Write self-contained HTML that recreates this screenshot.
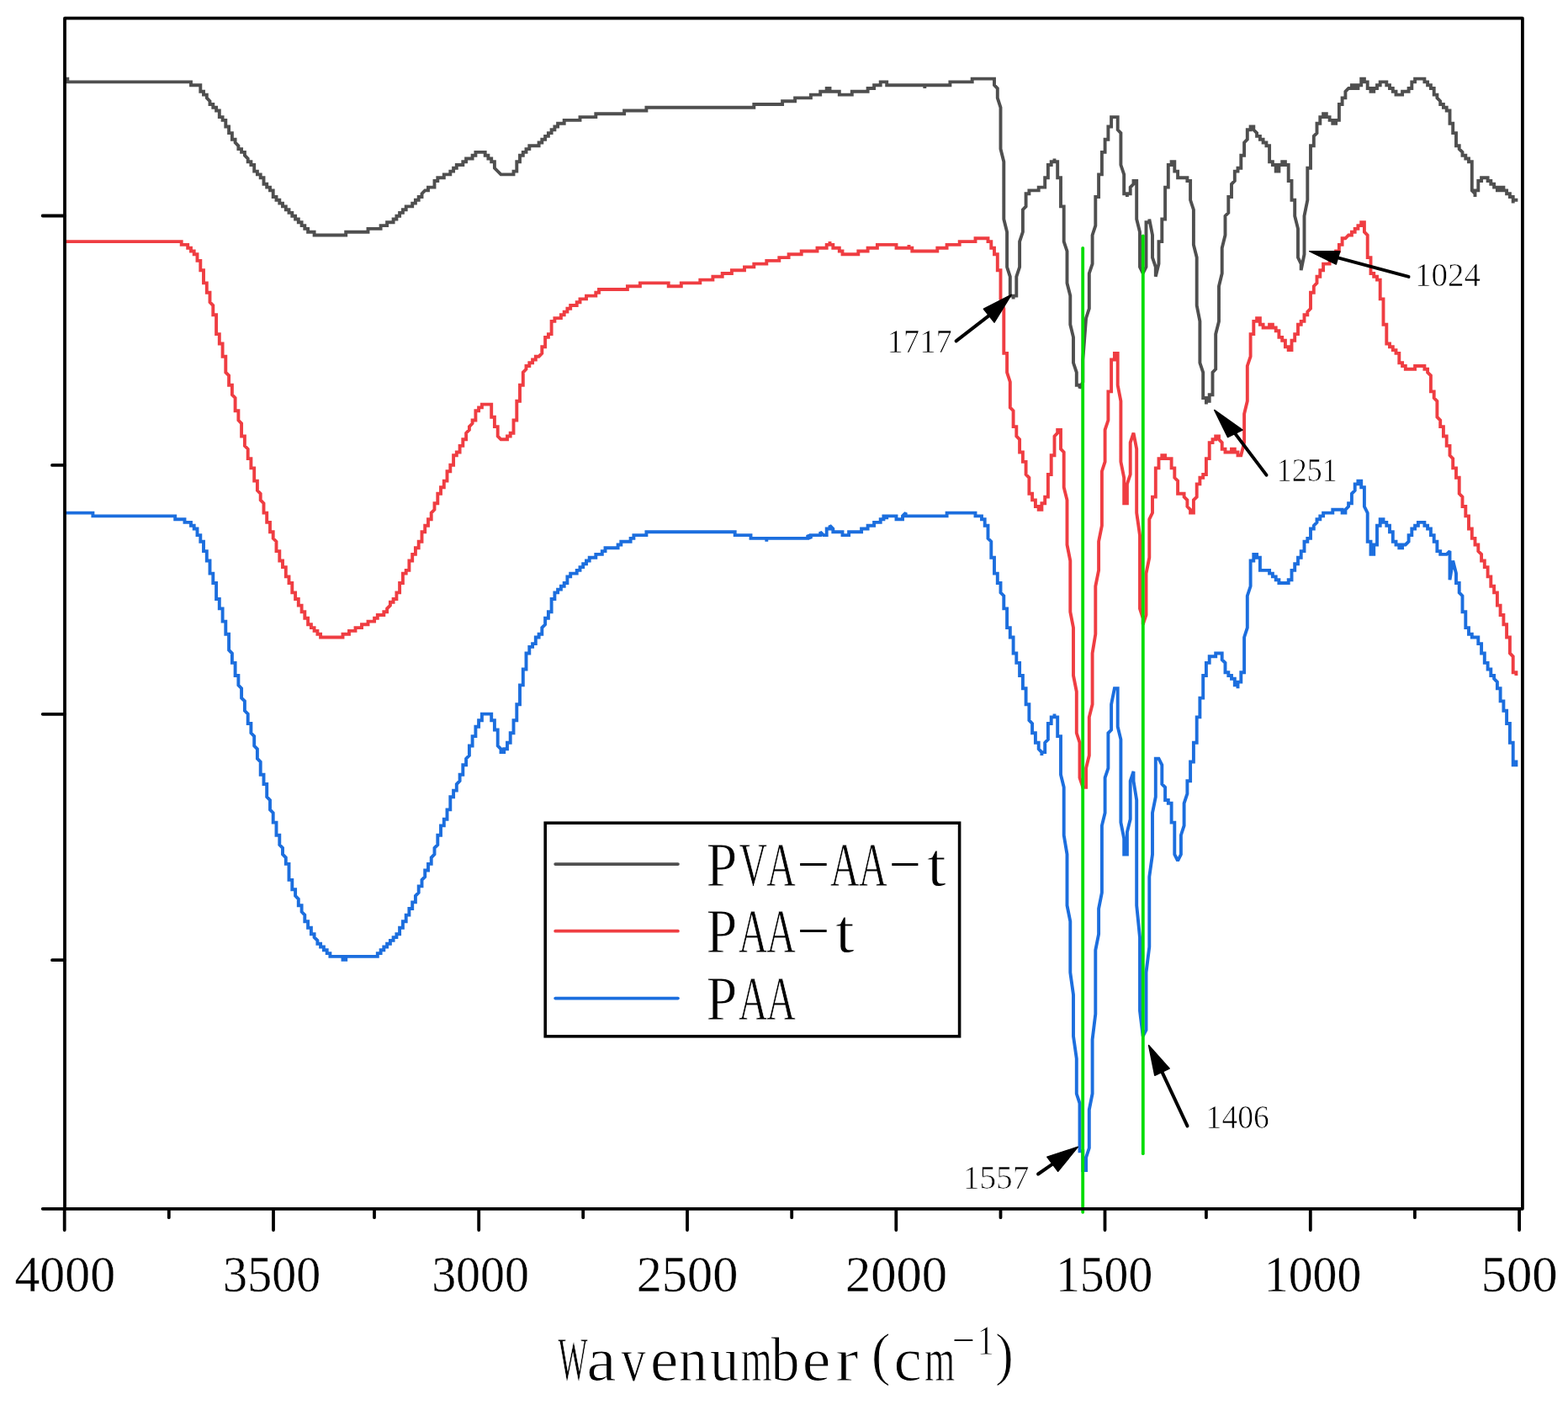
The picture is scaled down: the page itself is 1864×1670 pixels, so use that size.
<!DOCTYPE html>
<html><head><meta charset="utf-8"><title>FTIR spectra</title>
<style>html,body{margin:0;padding:0;background:#fff;}svg{display:block;}</style>
</head><body>
<svg width="1864" height="1670" viewBox="0 0 1864 1670">
<rect width="1864" height="1670" fill="#fff"/>
<defs><filter id="soft" x="-1%" y="-1%" width="102%" height="102%"><feGaussianBlur stdDeviation="0.45"/></filter></defs>
<g filter="url(#soft)">
<polyline points="80.3,93.6 80.3,97.4 227.0,97.4 227.0,101.2 238.3,101.2 238.3,108.8 242.0,108.8 242.0,112.6 245.8,112.6 245.8,116.4 249.5,120.2 249.5,124.0 253.3,124.0 253.3,127.8 257.1,127.8 257.1,131.5 260.8,131.5 260.8,139.1 264.6,139.1 264.6,142.9 268.3,142.9 268.3,150.5 272.1,150.5 272.1,158.1 275.9,158.1 275.9,165.7 279.6,165.7 279.6,169.5 283.4,173.3 283.4,177.1 287.1,177.1 287.1,180.9 290.9,180.9 290.9,184.7 294.7,188.5 294.7,192.2 298.4,192.2 298.4,196.0 302.2,196.0 302.2,203.6 305.9,203.6 305.9,207.4 309.7,207.4 309.7,211.2 313.5,211.2 313.5,218.8 317.2,218.8 317.2,222.6 321.0,222.6 321.0,226.4 324.7,226.4 324.7,234.0 328.5,234.0 328.5,237.8 332.3,237.8 332.3,241.6 336.0,241.6 336.0,245.4 339.8,245.4 339.8,249.2 343.5,249.2 343.5,252.9 347.3,252.9 347.3,256.7 351.1,256.7 351.1,260.5 354.8,260.5 354.8,264.3 358.6,264.3 358.6,268.1 362.3,268.1 362.3,271.9 366.1,271.9 366.1,275.7 373.6,275.7 373.6,279.5 411.2,279.5 411.2,275.7 437.5,275.7 437.5,271.9 452.6,271.9 452.6,268.1 460.1,268.1 460.1,264.3 467.6,264.3 467.6,260.5 471.4,260.5 471.4,256.7 475.1,256.7 475.1,252.9 478.9,252.9 478.9,249.2 482.7,249.2 482.7,245.4 490.2,245.4 490.2,241.6 493.9,241.6 493.9,237.8 497.7,237.8 497.7,234.0 501.5,234.0 501.5,230.2 505.2,226.4 509.0,226.4 509.0,222.6 516.5,222.6 516.5,215.0 520.3,215.0 520.3,211.2 527.8,211.2 527.8,207.4 535.3,207.4 535.3,203.6 539.1,203.6 539.1,199.8 542.8,199.8 542.8,196.0 550.3,196.0 550.3,192.2 554.1,192.2 554.1,188.5 561.6,188.5 561.6,184.7 565.4,184.7 565.4,180.9 576.7,180.9 576.7,184.7 580.4,184.7 580.4,188.5 584.2,188.5 584.2,192.2 587.9,192.2 587.9,199.8 595.5,207.4 610.5,207.4 610.5,203.6 614.3,203.6 614.3,192.2 618.0,192.2 618.0,184.7 621.8,184.7 621.8,180.9 625.5,180.9 625.5,177.1 629.3,177.1 629.3,173.3 640.6,173.3 640.6,169.5 644.3,169.5 644.3,165.7 648.1,165.7 648.1,161.9 651.9,161.9 651.9,158.1 655.6,158.1 655.6,154.3 659.4,154.3 659.4,150.5 663.1,150.5 663.1,146.7 670.7,146.7 670.7,142.9 689.5,142.9 689.5,139.1 708.3,139.1 708.3,135.3 742.1,135.3 742.1,131.5 768.4,131.5 768.4,127.8 896.3,127.8 896.3,124.0 930.1,124.0 930.1,120.2 945.1,120.2 945.1,116.4 963.9,116.4 963.9,112.6 975.2,112.6 975.2,108.8 982.7,108.8 982.7,105.0 986.5,105.0 986.5,108.8 997.8,108.8 997.8,112.6 1012.8,112.6 1012.8,108.8 1031.6,108.8 1031.6,105.0 1039.1,105.0 1039.1,101.2 1046.7,101.2 1046.7,97.4 1054.2,97.4 1054.2,101.2 1099.3,101.2 1099.3,105.0 1099.3,101.2 1129.4,101.2 1129.4,97.4 1155.7,97.4 1155.7,93.6 1182.0,93.6 1182.0,101.2 1185.8,105.0 1185.8,116.4 1189.5,127.8 1189.5,177.1 1193.3,192.2 1193.3,260.5 1197.1,275.7 1197.1,317.4 1200.8,328.8 1200.8,351.6 1204.6,351.6 1204.6,355.4 1204.6,351.6 1208.3,351.6 1208.3,328.8 1212.1,317.4 1212.1,287.1 1215.9,275.7 1215.9,249.2 1219.6,245.4 1219.6,230.2 1223.4,230.2 1223.4,226.4 1234.7,226.4 1234.7,222.6 1242.2,222.6 1242.2,211.2 1245.9,211.2 1245.9,196.0 1249.7,196.0 1249.7,192.2 1253.5,192.2 1253.5,188.5 1253.5,192.2 1257.2,192.2 1257.2,211.2 1261.0,211.2 1261.0,245.4 1264.7,245.4 1264.7,287.1 1268.5,298.5 1268.5,336.4 1272.3,351.6 1272.3,385.7 1276.0,400.9 1276.0,431.3 1279.8,442.6 1279.8,457.8 1283.5,457.8 1283.5,461.6 1287.3,454.0 1287.3,427.5 1291.1,378.1 1294.8,366.8 1294.8,325.0 1298.6,313.6 1298.6,279.5 1302.3,268.1 1302.3,234.0 1306.1,234.0 1306.1,207.4 1309.9,207.4 1309.9,180.9 1313.6,180.9 1313.6,165.7 1317.4,165.7 1317.4,150.5 1321.1,150.5 1321.1,139.1 1328.7,139.1 1328.7,154.3 1332.4,158.1 1332.4,196.0 1336.2,207.4 1336.2,230.2 1339.9,230.2 1339.9,234.0 1339.9,230.2 1343.7,230.2 1343.7,222.6 1347.5,218.8 1347.5,215.0 1351.2,215.0 1351.2,260.5 1355.0,275.7 1355.0,317.4 1358.7,325.0 1362.5,317.4 1362.5,264.3 1366.3,264.3 1366.3,260.5 1370.0,279.5 1370.0,306.1 1373.8,317.4 1373.8,328.8 1377.5,313.6 1377.5,287.1 1381.3,287.1 1381.3,260.5 1385.1,260.5 1385.1,222.6 1388.8,222.6 1388.8,196.0 1392.6,196.0 1392.6,192.2 1396.3,192.2 1396.3,203.6 1400.1,203.6 1400.1,211.2 1411.4,211.2 1411.4,215.0 1415.1,215.0 1415.1,237.8 1418.9,249.2 1418.9,290.9 1422.7,306.1 1422.7,363.0 1426.4,381.9 1426.4,431.3 1430.2,442.6 1430.2,473.0 1433.9,473.0 1433.9,480.6 1433.9,476.8 1437.7,476.8 1437.7,469.2 1441.5,469.2 1441.5,442.6 1445.2,438.8 1445.2,397.1 1449.0,381.9 1449.0,340.2 1452.7,325.0 1452.7,294.7 1456.5,279.5 1456.5,256.7 1460.3,252.9 1460.3,234.0 1464.0,234.0 1464.0,218.8 1467.8,215.0 1467.8,203.6 1471.5,203.6 1471.5,199.8 1475.3,199.8 1475.3,184.7 1479.1,184.7 1479.1,169.5 1482.8,165.7 1482.8,154.3 1486.6,154.3 1486.6,150.5 1490.3,150.5 1490.3,154.3 1494.1,158.1 1494.1,161.9 1497.9,161.9 1497.9,165.7 1501.6,165.7 1501.6,169.5 1505.4,169.5 1505.4,173.3 1509.1,173.3 1509.1,192.2 1512.9,192.2 1512.9,196.0 1516.7,196.0 1516.7,203.6 1520.4,203.6 1520.4,196.0 1524.2,196.0 1524.2,192.2 1527.9,192.2 1527.9,196.0 1531.7,196.0 1531.7,215.0 1535.5,215.0 1535.5,237.8 1539.2,237.8 1539.2,256.7 1543.0,271.9 1543.0,306.1 1546.7,313.6 1546.7,321.2 1550.5,302.3 1550.5,256.7 1554.3,237.8 1554.3,199.8 1558.0,199.8 1558.0,173.3 1561.8,173.3 1561.8,161.9 1565.5,158.1 1565.5,146.7 1569.3,146.7 1569.3,139.1 1573.1,139.1 1573.1,135.3 1576.8,135.3 1576.8,139.1 1580.6,139.1 1580.6,142.9 1584.3,142.9 1584.3,146.7 1588.1,146.7 1588.1,142.9 1591.9,142.9 1591.9,124.0 1595.6,124.0 1595.6,116.4 1599.4,116.4 1599.4,108.8 1603.1,105.0 1606.9,105.0 1606.9,101.2 1610.7,101.2 1610.7,105.0 1614.4,105.0 1614.4,101.2 1618.2,101.2 1618.2,93.6 1621.9,93.6 1621.9,97.4 1625.7,97.4 1625.7,105.0 1629.5,105.0 1629.5,108.8 1633.2,108.8 1633.2,105.0 1637.0,105.0 1637.0,101.2 1640.7,101.2 1640.7,97.4 1648.3,97.4 1648.3,101.2 1652.0,101.2 1652.0,105.0 1655.8,105.0 1655.8,108.8 1659.5,108.8 1659.5,112.6 1667.1,112.6 1667.1,108.8 1674.6,108.8 1674.6,105.0 1678.3,105.0 1678.3,97.4 1682.1,97.4 1682.1,93.6 1693.4,93.6 1693.4,97.4 1697.1,97.4 1697.1,101.2 1700.9,101.2 1700.9,105.0 1704.7,105.0 1704.7,112.6 1708.4,112.6 1708.4,116.4 1712.2,120.2 1712.2,124.0 1715.9,124.0 1715.9,127.8 1719.7,127.8 1719.7,131.5 1723.5,131.5 1723.5,146.7 1727.2,146.7 1727.2,158.1 1731.0,158.1 1731.0,173.3 1734.7,173.3 1734.7,177.1 1738.5,180.9 1738.5,184.7 1742.3,184.7 1742.3,188.5 1746.0,188.5 1746.0,192.2 1749.8,192.2 1749.8,226.4 1753.5,230.2 1753.5,234.0 1753.5,226.4 1757.3,226.4 1757.3,215.0 1761.1,215.0 1761.1,211.2 1768.6,211.2 1768.6,215.0 1772.3,215.0 1772.3,218.8 1776.1,218.8 1776.1,222.6 1779.9,222.6 1779.9,226.4 1783.6,226.4 1783.6,222.6 1787.4,222.6 1787.4,226.4 1791.1,226.4 1791.1,230.2 1794.9,230.2 1794.9,234.0 1798.7,234.0 1798.7,241.6 1798.7,237.8 1802.4,237.8" fill="none" stroke="#4f4f4f" stroke-width="3.9" stroke-linejoin="miter" stroke-miterlimit="2" stroke-linecap="square"/>
<polyline points="80.3,287.1 215.7,287.1 215.7,290.9 223.2,290.9 223.2,294.7 227.0,294.7 227.0,298.5 230.7,298.5 230.7,302.3 234.5,302.3 234.5,309.9 238.3,309.9 238.3,321.2 242.0,321.2 242.0,336.4 245.8,336.4 245.8,347.8 249.5,347.8 249.5,359.2 253.3,363.0 253.3,374.3 257.1,374.3 257.1,397.1 260.8,397.1 260.8,408.5 264.6,408.5 264.6,423.7 268.3,423.7 268.3,442.6 272.1,446.4 272.1,457.8 275.9,457.8 275.9,469.2 279.6,473.0 279.6,488.2 283.4,488.2 283.4,499.5 287.1,503.3 287.1,518.5 290.9,518.5 290.9,529.9 294.7,533.7 294.7,545.1 298.4,545.1 298.4,556.4 302.2,556.4 302.2,571.6 305.9,571.6 305.9,583.0 309.7,586.8 309.7,594.4 313.5,598.2 313.5,609.6 317.2,609.6 317.2,620.9 321.0,620.9 321.0,632.3 324.7,632.3 324.7,639.9 328.5,643.7 328.5,655.1 332.3,655.1 332.3,666.5 336.0,666.5 336.0,674.1 339.8,674.1 339.8,685.4 343.5,685.4 343.5,693.0 347.3,693.0 347.3,704.4 351.1,704.4 351.1,712.0 354.8,712.0 354.8,719.6 358.6,719.6 358.6,727.2 362.3,727.2 362.3,734.8 366.1,734.8 366.1,742.3 369.9,742.3 369.9,746.1 373.6,746.1 373.6,749.9 377.4,749.9 377.4,753.7 381.1,753.7 381.1,757.5 407.5,757.5 407.5,753.7 415.0,753.7 415.0,749.9 422.5,749.9 422.5,746.1 430.0,746.1 430.0,742.3 437.5,742.3 437.5,738.6 445.1,738.6 445.1,734.8 448.8,734.8 448.8,731.0 456.3,731.0 456.3,727.2 460.1,727.2 460.1,723.4 463.9,719.6 463.9,715.8 467.6,715.8 467.6,712.0 471.4,712.0 471.4,704.4 475.1,704.4 475.1,693.0 478.9,693.0 478.9,681.6 482.7,681.6 482.7,677.9 486.4,677.9 486.4,666.5 490.2,666.5 490.2,658.9 493.9,658.9 493.9,651.3 497.7,651.3 497.7,643.7 501.5,643.7 501.5,632.3 505.2,632.3 505.2,624.7 509.0,624.7 509.0,617.2 512.7,617.2 512.7,609.6 516.5,605.8 516.5,598.2 520.3,598.2 520.3,586.8 524.0,586.8 524.0,579.2 527.8,579.2 527.8,571.6 531.5,571.6 531.5,560.2 535.3,560.2 535.3,552.7 539.1,552.7 539.1,541.3 542.8,541.3 542.8,537.5 546.6,537.5 546.6,529.9 550.3,529.9 550.3,522.3 554.1,522.3 554.1,514.7 557.9,510.9 557.9,507.1 561.6,503.3 561.6,499.5 565.4,499.5 565.4,488.2 569.1,488.2 569.1,484.4 572.9,484.4 572.9,480.6 584.2,480.6 584.2,495.7 587.9,495.7 587.9,507.1 591.7,507.1 591.7,518.5 595.5,522.3 603.0,522.3 603.0,518.5 606.7,518.5 606.7,514.7 610.5,514.7 610.5,499.5 614.3,499.5 614.3,476.8 618.0,476.8 618.0,457.8 621.8,457.8 621.8,442.6 625.5,438.8 625.5,435.0 629.3,435.0 629.3,431.3 633.1,431.3 633.1,427.5 636.8,427.5 636.8,423.7 640.6,423.7 644.3,419.9 644.3,412.3 648.1,412.3 648.1,400.9 651.9,400.9 651.9,397.1 655.6,397.1 655.6,381.9 659.4,381.9 659.4,378.1 666.9,378.1 666.9,374.3 670.7,374.3 670.7,370.6 674.4,370.6 674.4,366.8 678.2,366.8 678.2,363.0 685.7,363.0 685.7,359.2 689.5,359.2 689.5,355.4 697.0,355.4 697.0,351.6 708.3,351.6 708.3,347.8 712.0,347.8 712.0,344.0 745.9,344.0 745.9,340.2 760.9,340.2 760.9,336.4 794.7,336.4 794.7,340.2 809.8,340.2 809.8,336.4 832.3,336.4 832.3,332.6 847.4,332.6 847.4,328.8 858.7,328.8 858.7,325.0 869.9,325.0 869.9,321.2 885.0,321.2 885.0,317.4 896.3,317.4 896.3,313.6 911.3,313.6 911.3,309.9 926.3,309.9 926.3,306.1 937.6,306.1 937.6,302.3 952.7,302.3 952.7,298.5 971.5,298.5 971.5,294.7 982.7,294.7 982.7,290.9 986.5,290.9 986.5,287.1 986.5,290.9 990.3,290.9 990.3,294.7 997.8,294.7 997.8,298.5 1001.5,298.5 1001.5,302.3 1020.3,302.3 1020.3,298.5 1031.6,298.5 1031.6,294.7 1042.9,294.7 1042.9,290.9 1065.5,290.9 1065.5,294.7 1080.5,294.7 1080.5,290.9 1080.5,294.7 1084.3,294.7 1084.3,298.5 1114.3,298.5 1114.3,294.7 1125.6,294.7 1125.6,290.9 1140.7,290.9 1140.7,287.1 1159.5,287.1 1159.5,283.3 1174.5,283.3 1174.5,287.1 1178.3,287.1 1178.3,294.7 1182.0,294.7 1182.0,302.3 1185.8,302.3 1185.8,321.2 1189.5,321.2 1189.5,355.4 1193.3,366.8 1193.3,419.9 1197.1,419.9 1197.1,442.6 1200.8,454.0 1200.8,484.4 1204.6,488.2 1204.6,507.1 1208.3,507.1 1208.3,518.5 1212.1,522.3 1212.1,537.5 1215.9,537.5 1215.9,548.9 1219.6,548.9 1219.6,564.0 1223.4,567.8 1223.4,586.8 1227.1,586.8 1227.1,594.4 1230.9,594.4 1230.9,602.0 1234.7,602.0 1234.7,605.8 1238.4,605.8 1238.4,598.2 1242.2,598.2 1242.2,590.6 1245.9,590.6 1245.9,564.0 1249.7,564.0 1249.7,541.3 1253.5,541.3 1253.5,518.5 1257.2,514.7 1257.2,510.9 1261.0,510.9 1261.0,533.7 1264.7,537.5 1264.7,579.2 1268.5,594.4 1268.5,647.5 1272.3,666.5 1272.3,727.2 1276.0,746.1 1276.0,803.0 1279.8,822.0 1279.8,871.3 1283.5,882.7 1283.5,924.4 1287.3,935.8 1291.1,935.8 1291.1,913.1 1294.8,897.9 1294.8,852.4 1298.6,837.2 1298.6,776.5 1302.3,753.7 1302.3,696.8 1306.1,677.9 1306.1,643.7 1309.9,624.7 1309.9,560.2 1313.6,548.9 1313.6,510.9 1317.4,499.5 1317.4,465.4 1321.1,465.4 1321.1,427.5 1324.9,427.5 1324.9,419.9 1328.7,419.9 1328.7,457.8 1332.4,476.8 1332.4,548.9 1336.2,567.8 1336.2,598.2 1339.9,598.2 1339.9,575.4 1343.7,564.0 1343.7,526.1 1347.5,514.7 1351.2,533.7 1351.2,609.6 1355.0,636.1 1355.0,723.4 1358.7,734.8 1358.7,742.3 1362.5,731.0 1362.5,681.6 1366.3,662.7 1366.3,617.2 1370.0,609.6 1370.0,590.6 1373.8,590.6 1373.8,556.4 1377.5,556.4 1377.5,545.1 1381.3,545.1 1381.3,541.3 1385.1,541.3 1385.1,545.1 1392.6,545.1 1392.6,556.4 1396.3,556.4 1396.3,567.8 1400.1,571.6 1400.1,586.8 1407.6,586.8 1407.6,590.6 1411.4,594.4 1411.4,602.0 1415.1,605.8 1415.1,609.6 1418.9,609.6 1418.9,594.4 1422.7,590.6 1422.7,575.4 1426.4,575.4 1426.4,567.8 1430.2,567.8 1430.2,564.0 1433.9,564.0 1433.9,545.1 1437.7,545.1 1437.7,526.1 1441.5,526.1 1441.5,522.3 1445.2,522.3 1445.2,518.5 1449.0,518.5 1449.0,522.3 1452.7,526.1 1452.7,533.7 1456.5,533.7 1456.5,537.5 1464.0,537.5 1464.0,533.7 1467.8,533.7 1467.8,537.5 1471.5,537.5 1471.5,541.3 1475.3,541.3 1479.1,526.1 1479.1,492.0 1482.8,476.8 1482.8,435.0 1486.6,423.7 1486.6,397.1 1490.3,397.1 1490.3,381.9 1494.1,381.9 1494.1,378.1 1497.9,378.1 1497.9,385.7 1501.6,385.7 1501.6,389.5 1509.1,389.5 1509.1,385.7 1512.9,385.7 1512.9,389.5 1516.7,389.5 1516.7,393.3 1520.4,393.3 1520.4,400.9 1524.2,400.9 1524.2,404.7 1527.9,404.7 1527.9,412.3 1531.7,412.3 1531.7,416.1 1535.5,416.1 1535.5,404.7 1539.2,404.7 1539.2,397.1 1543.0,397.1 1543.0,385.7 1546.7,385.7 1546.7,381.9 1550.5,381.9 1550.5,374.3 1554.3,374.3 1554.3,370.6 1558.0,366.8 1558.0,347.8 1561.8,347.8 1561.8,340.2 1565.5,336.4 1565.5,328.8 1569.3,328.8 1569.3,321.2 1573.1,321.2 1573.1,313.6 1580.6,313.6 1580.6,309.9 1584.3,309.9 1584.3,306.1 1588.1,306.1 1588.1,298.5 1591.9,298.5 1591.9,290.9 1595.6,290.9 1595.6,283.3 1599.4,283.3 1603.1,279.5 1606.9,279.5 1606.9,275.7 1610.7,275.7 1610.7,271.9 1614.4,271.9 1614.4,268.1 1618.2,268.1 1618.2,264.3 1621.9,264.3 1621.9,275.7 1625.7,279.5 1625.7,306.1 1629.5,306.1 1629.5,325.0 1633.2,325.0 1633.2,328.8 1637.0,328.8 1637.0,332.6 1640.7,332.6 1640.7,355.4 1644.5,355.4 1644.5,385.7 1648.3,385.7 1648.3,408.5 1652.0,408.5 1652.0,412.3 1655.8,412.3 1655.8,416.1 1659.5,416.1 1659.5,419.9 1663.3,419.9 1663.3,431.3 1667.1,431.3 1667.1,435.0 1670.8,435.0 1670.8,438.8 1682.1,438.8 1682.1,435.0 1693.4,435.0 1693.4,438.8 1697.1,438.8 1697.1,442.6 1700.9,446.4 1700.9,465.4 1704.7,465.4 1704.7,473.0 1708.4,476.8 1708.4,495.7 1712.2,499.5 1712.2,507.1 1715.9,507.1 1715.9,518.5 1719.7,518.5 1719.7,529.9 1723.5,529.9 1723.5,541.3 1727.2,545.1 1727.2,556.4 1731.0,556.4 1731.0,567.8 1734.7,567.8 1734.7,586.8 1738.5,590.6 1738.5,602.0 1742.3,602.0 1742.3,613.4 1746.0,613.4 1746.0,628.5 1749.8,628.5 1749.8,639.9 1753.5,639.9 1753.5,647.5 1757.3,647.5 1757.3,655.1 1761.1,658.9 1761.1,666.5 1764.8,666.5 1764.8,674.1 1768.6,674.1 1768.6,685.4 1772.3,685.4 1772.3,696.8 1776.1,696.8 1776.1,704.4 1779.9,704.4 1779.9,719.6 1783.6,719.6 1783.6,731.0 1787.4,731.0 1787.4,742.3 1791.1,742.3 1791.1,757.5 1794.9,757.5 1794.9,776.5 1798.7,780.3 1798.7,799.3 1802.4,799.3 1802.4,803.0 1802.4,799.3" fill="none" stroke="#ef3e42" stroke-width="3.9" stroke-linejoin="miter" stroke-miterlimit="2" stroke-linecap="square"/>
<polyline points="80.3,609.6 110.4,609.6 110.4,613.4 208.2,613.4 208.2,617.2 219.5,617.2 219.5,620.9 227.0,620.9 227.0,624.7 230.7,624.7 230.7,628.5 234.5,628.5 234.5,636.1 238.3,636.1 238.3,643.7 242.0,643.7 242.0,655.1 245.8,655.1 245.8,666.5 249.5,666.5 249.5,681.6 253.3,681.6 253.3,693.0 257.1,693.0 257.1,712.0 260.8,712.0 260.8,723.4 264.6,723.4 264.6,738.6 268.3,738.6 268.3,753.7 272.1,753.7 272.1,772.7 275.9,776.5 275.9,787.9 279.6,787.9 279.6,803.0 283.4,803.0 283.4,814.4 287.1,818.2 287.1,829.6 290.9,833.4 290.9,844.8 294.7,848.6 294.7,860.0 298.4,860.0 298.4,871.3 302.2,875.1 302.2,886.5 305.9,890.3 305.9,901.7 309.7,905.5 309.7,920.7 313.5,920.7 313.5,932.0 317.2,932.0 317.2,947.2 321.0,951.0 321.0,962.4 324.7,966.2 324.7,977.6 328.5,977.6 328.5,992.7 332.3,992.7 332.3,1004.1 336.0,1007.9 336.0,1015.5 339.8,1019.3 339.8,1026.9 343.5,1026.9 343.5,1045.9 347.3,1045.9 347.3,1057.2 351.1,1057.2 351.1,1064.8 354.8,1068.6 354.8,1076.2 358.6,1076.2 358.6,1083.8 362.3,1087.6 362.3,1095.2 366.1,1095.2 366.1,1102.8 369.9,1102.8 369.9,1110.3 373.6,1110.3 373.6,1114.1 377.4,1117.9 377.4,1121.7 381.1,1121.7 381.1,1125.5 384.9,1125.5 384.9,1129.3 388.7,1129.3 388.7,1133.1 392.4,1133.1 392.4,1136.9 407.5,1136.9 407.5,1140.7 411.2,1140.7 411.2,1136.9 448.8,1136.9 448.8,1133.1 452.6,1133.1 452.6,1129.3 456.3,1129.3 456.3,1125.5 460.1,1125.5 460.1,1121.7 463.9,1121.7 463.9,1117.9 467.6,1117.9 467.6,1114.1 471.4,1114.1 471.4,1110.3 475.1,1110.3 475.1,1102.8 478.9,1102.8 478.9,1095.2 482.7,1095.2 482.7,1087.6 486.4,1087.6 486.4,1080.0 490.2,1080.0 490.2,1072.4 493.9,1072.4 493.9,1064.8 497.7,1061.0 497.7,1053.4 501.5,1053.4 501.5,1045.9 505.2,1042.1 505.2,1034.5 509.0,1034.5 509.0,1026.9 512.7,1026.9 512.7,1019.3 516.5,1015.5 516.5,1007.9 520.3,1004.1 520.3,992.7 524.0,992.7 524.0,981.4 527.8,981.4 527.8,973.8 531.5,973.8 531.5,962.4 535.3,962.4 535.3,947.2 539.1,947.2 539.1,939.6 542.8,939.6 542.8,932.0 546.6,928.2 546.6,920.7 550.3,920.7 550.3,909.3 554.1,909.3 554.1,901.7 557.9,897.9 557.9,886.5 561.6,886.5 561.6,875.1 565.4,875.1 565.4,863.7 569.1,863.7 569.1,856.2 572.9,856.2 572.9,848.6 584.2,848.6 584.2,856.2 587.9,856.2 587.9,867.5 591.7,867.5 591.7,886.5 595.5,890.3 595.5,894.1 599.2,894.1 599.2,890.3 603.0,890.3 603.0,882.7 606.7,882.7 606.7,871.3 610.5,871.3 610.5,856.2 614.3,856.2 614.3,837.2 618.0,837.2 618.0,814.4 621.8,814.4 621.8,795.5 625.5,795.5 625.5,776.5 629.3,776.5 629.3,768.9 633.1,768.9 633.1,765.1 636.8,765.1 636.8,757.5 640.6,757.5 640.6,753.7 644.3,753.7 644.3,746.1 648.1,742.3 648.1,734.8 651.9,734.8 651.9,727.2 655.6,727.2 655.6,712.0 659.4,712.0 659.4,704.4 663.1,704.4 663.1,700.6 666.9,700.6 666.9,696.8 670.7,696.8 670.7,693.0 674.4,693.0 674.4,685.4 678.2,685.4 678.2,681.6 685.7,681.6 685.7,677.9 689.5,677.9 689.5,674.1 693.2,674.1 693.2,670.3 697.0,670.3 697.0,666.5 700.7,666.5 700.7,662.7 708.3,662.7 708.3,658.9 715.8,658.9 715.8,655.1 719.5,655.1 719.5,651.3 734.6,651.3 734.6,647.5 738.3,647.5 738.3,643.7 749.6,643.7 749.6,639.9 753.4,639.9 753.4,636.1 768.4,636.1 768.4,632.3 873.7,632.3 873.7,636.1 892.5,636.1 892.5,639.9 911.3,639.9 911.3,643.7 911.3,639.9 960.2,639.9 960.2,636.1 963.9,639.9 963.9,636.1 975.2,636.1 975.2,632.3 979.0,636.1 982.7,636.1 982.7,628.5 986.5,628.5 986.5,624.7 990.3,628.5 990.3,632.3 1001.5,632.3 1001.5,636.1 1009.1,636.1 1009.1,632.3 1024.1,632.3 1024.1,628.5 1031.6,628.5 1031.6,624.7 1039.1,624.7 1039.1,620.9 1046.7,620.9 1046.7,617.2 1050.4,617.2 1050.4,613.4 1054.2,613.4 1054.2,617.2 1054.2,613.4 1065.5,613.4 1065.5,617.2 1073.0,617.2 1073.0,613.4 1076.7,609.6 1076.7,613.4 1125.6,613.4 1125.6,609.6 1159.5,609.6 1159.5,613.4 1167.0,613.4 1167.0,617.2 1170.7,617.2 1170.7,624.7 1174.5,624.7 1174.5,639.9 1178.3,643.7 1178.3,662.7 1182.0,662.7 1182.0,681.6 1185.8,681.6 1185.8,693.0 1189.5,693.0 1189.5,704.4 1193.3,708.2 1193.3,723.4 1197.1,723.4 1197.1,746.1 1200.8,746.1 1200.8,757.5 1204.6,757.5 1204.6,776.5 1208.3,776.5 1208.3,787.9 1212.1,787.9 1212.1,803.0 1215.9,803.0 1215.9,818.2 1219.6,818.2 1219.6,837.2 1223.4,837.2 1223.4,856.2 1227.1,860.0 1227.1,871.3 1230.9,871.3 1230.9,882.7 1234.7,882.7 1234.7,890.3 1238.4,894.1 1238.4,897.9 1238.4,894.1 1242.2,894.1 1242.2,882.7 1245.9,878.9 1245.9,860.0 1249.7,860.0 1249.7,852.4 1253.5,852.4 1253.5,848.6 1253.5,852.4 1257.2,852.4 1257.2,875.1 1261.0,875.1 1261.0,920.7 1264.7,935.8 1264.7,992.7 1268.5,1015.5 1268.5,1076.2 1272.3,1095.2 1272.3,1155.9 1276.0,1182.4 1276.0,1231.7 1279.8,1258.3 1279.8,1300.0 1283.5,1311.4 1283.5,1368.3 1287.3,1368.3 1287.3,1391.1 1291.1,1391.1 1291.1,1375.9 1294.8,1364.5 1294.8,1319.0 1298.6,1300.0 1298.6,1235.5 1302.3,1205.2 1302.3,1129.3 1306.1,1110.3 1306.1,1080.0 1309.9,1061.0 1309.9,981.4 1313.6,966.2 1313.6,924.4 1317.4,913.1 1317.4,871.3 1321.1,867.5 1321.1,837.2 1324.9,818.2 1328.7,818.2 1328.7,863.7 1332.4,878.9 1332.4,977.6 1336.2,996.5 1336.2,1015.5 1339.9,1015.5 1339.9,988.9 1343.7,973.8 1343.7,928.2 1347.5,916.9 1347.5,928.2 1351.2,951.0 1351.2,1076.2 1355.0,1114.1 1355.0,1201.4 1358.7,1231.7 1362.5,1224.2 1362.5,1155.9 1366.3,1125.5 1366.3,1042.1 1370.0,1015.5 1370.0,966.2 1373.8,947.2 1373.8,901.7 1377.5,901.7 1381.3,909.3 1381.3,932.0 1385.1,935.8 1385.1,951.0 1388.8,951.0 1388.8,954.8 1392.6,954.8 1392.6,977.6 1396.3,977.6 1396.3,1015.5 1400.1,1023.1 1403.9,1015.5 1403.9,992.7 1407.6,981.4 1407.6,954.8 1411.4,943.4 1411.4,928.2 1415.1,928.2 1415.1,905.5 1418.9,905.5 1418.9,882.7 1422.7,882.7 1422.7,852.4 1426.4,852.4 1426.4,829.6 1430.2,829.6 1430.2,803.0 1433.9,803.0 1433.9,787.9 1437.7,787.9 1437.7,780.3 1445.2,780.3 1445.2,776.5 1452.7,776.5 1452.7,784.1 1456.5,787.9 1456.5,799.3 1460.3,799.3 1460.3,803.0 1464.0,803.0 1464.0,806.8 1467.8,806.8 1467.8,814.4 1471.5,814.4 1471.5,818.2 1471.5,810.6 1475.3,810.6 1475.3,799.3 1479.1,799.3 1479.1,757.5 1482.8,746.1 1482.8,708.2 1486.6,696.8 1486.6,666.5 1490.3,666.5 1490.3,658.9 1494.1,658.9 1494.1,662.7 1497.9,662.7 1497.9,677.9 1509.1,677.9 1509.1,681.6 1512.9,681.6 1512.9,685.4 1516.7,685.4 1516.7,689.2 1520.4,689.2 1520.4,693.0 1531.7,693.0 1531.7,689.2 1535.5,689.2 1535.5,677.9 1539.2,677.9 1539.2,670.3 1543.0,670.3 1543.0,662.7 1546.7,662.7 1546.7,655.1 1550.5,655.1 1550.5,643.7 1554.3,643.7 1554.3,639.9 1558.0,639.9 1558.0,628.5 1561.8,628.5 1561.8,624.7 1565.5,620.9 1565.5,617.2 1569.3,617.2 1569.3,613.4 1573.1,613.4 1573.1,609.6 1584.3,609.6 1584.3,605.8 1595.6,605.8 1595.6,609.6 1599.4,609.6 1599.4,605.8 1603.1,602.0 1603.1,598.2 1606.9,598.2 1606.9,586.8 1610.7,583.0 1610.7,575.4 1614.4,575.4 1614.4,571.6 1618.2,571.6 1618.2,579.2 1621.9,579.2 1621.9,602.0 1625.7,609.6 1625.7,643.7 1629.5,643.7 1629.5,658.9 1633.2,658.9 1633.2,647.5 1637.0,647.5 1637.0,624.7 1640.7,624.7 1640.7,617.2 1644.5,617.2 1644.5,620.9 1648.3,620.9 1648.3,624.7 1652.0,624.7 1652.0,632.3 1655.8,632.3 1655.8,643.7 1659.5,643.7 1659.5,647.5 1663.3,647.5 1663.3,651.3 1667.1,651.3 1667.1,647.5 1670.8,647.5 1674.6,643.7 1674.6,636.1 1678.3,636.1 1678.3,628.5 1682.1,628.5 1682.1,624.7 1685.9,624.7 1685.9,620.9 1693.4,620.9 1693.4,624.7 1697.1,624.7 1697.1,628.5 1700.9,628.5 1700.9,636.1 1704.7,636.1 1704.7,643.7 1708.4,643.7 1708.4,655.1 1712.2,655.1 1712.2,658.9 1719.7,658.9 1723.5,655.1 1723.5,689.2 1727.2,666.5 1731.0,681.6 1731.0,693.0 1734.7,693.0 1734.7,704.4 1738.5,708.2 1738.5,727.2 1742.3,727.2 1742.3,746.1 1746.0,746.1 1746.0,753.7 1749.8,753.7 1749.8,757.5 1757.3,757.5 1757.3,765.1 1761.1,765.1 1761.1,776.5 1764.8,776.5 1764.8,787.9 1768.6,787.9 1768.6,795.5 1772.3,795.5 1772.3,803.0 1776.1,803.0 1776.1,806.8 1779.9,810.6 1779.9,818.2 1783.6,818.2 1783.6,833.4 1787.4,833.4 1787.4,844.8 1791.1,844.8 1791.1,860.0 1794.9,860.0 1794.9,882.7 1798.7,882.7 1798.7,909.3 1802.4,909.3 1802.4,905.5" fill="none" stroke="#1b6ede" stroke-width="3.9" stroke-linejoin="miter" stroke-miterlimit="2" stroke-linecap="square"/>
</g>
<line x1="1287.2" y1="294.8" x2="1287.2" y2="1440.8" stroke="#00dd00" stroke-width="3.8" stroke-linecap="round"/>
<line x1="1358.8" y1="280.3" x2="1358.8" y2="1371.2" stroke="#00dd00" stroke-width="3.8" stroke-linecap="round"/>
<path d="M77,1436.8 L77,21.7 L1809.9,21.7 L1809.9,1436.8 Z" fill="none" stroke="#000" stroke-width="3.8" stroke-linejoin="round"/>
<path d="M76.7,1436.8V1462M200.8,1436.8V1447.2M325,1436.8V1462M445,1436.8V1447.2M569.2,1436.8V1462M693.2,1436.8V1447.2M817,1436.8V1462M941.2,1436.8V1447.2M1065.3,1436.8V1462M1189.5,1436.8V1447.2M1313.5,1436.8V1462M1433.9,1436.8V1447.2M1557.8,1436.8V1462M1681.9,1436.8V1447.2M1806.1,1436.8V1462M50.7,256.5H77M62,552.9H77M50.7,848.8H77M62,1141.2H77M50.7,1436.8H77" stroke="#000" stroke-width="3.8" stroke-linecap="round" fill="none"/>
<text x="17.43" y="1535.0" font-size="61.5" textLength="119.65" lengthAdjust="spacingAndGlyphs" style="font-family:'Liberation Serif',serif" stroke="#fff" stroke-width="0.4">4000</text>
<text x="265.12" y="1535.0" font-size="61.5" textLength="116.09" lengthAdjust="spacingAndGlyphs" style="font-family:'Liberation Serif',serif" stroke="#fff" stroke-width="0.4">3500</text>
<text x="513.13" y="1535.0" font-size="61.5" textLength="115.88" lengthAdjust="spacingAndGlyphs" style="font-family:'Liberation Serif',serif" stroke="#fff" stroke-width="0.4">3000</text>
<text x="756.65" y="1535.0" font-size="61.5" textLength="120.75" lengthAdjust="spacingAndGlyphs" style="font-family:'Liberation Serif',serif" stroke="#fff" stroke-width="0.4">2500</text>
<text x="1004.94" y="1535.0" font-size="61.5" textLength="121.17" lengthAdjust="spacingAndGlyphs" style="font-family:'Liberation Serif',serif" stroke="#fff" stroke-width="0.4">2000</text>
<text x="1254.93" y="1535.0" font-size="61.5" textLength="115.37" lengthAdjust="spacingAndGlyphs" style="font-family:'Liberation Serif',serif" stroke="#fff" stroke-width="0.4">1500</text>
<text x="1502.82" y="1535.0" font-size="61.5" textLength="115.58" lengthAdjust="spacingAndGlyphs" style="font-family:'Liberation Serif',serif" stroke="#fff" stroke-width="0.4">1000</text>
<text x="1760.67" y="1535.0" font-size="61.5" textLength="91.04" lengthAdjust="spacingAndGlyphs" style="font-family:'Liberation Serif',serif" stroke="#fff" stroke-width="0.4">500</text>
<text style="font-family:'Liberation Serif',serif" stroke="#fff" stroke-width="1.0"><tspan x="663.26" y="1641.00" font-size="74.5" textLength="35.41" lengthAdjust="spacingAndGlyphs">W</tspan><tspan x="697.30" y="1641.00" font-size="74.5" textLength="35.39" lengthAdjust="spacingAndGlyphs">a</tspan><tspan x="738.40" y="1641.00" font-size="74.5" textLength="29.30" lengthAdjust="spacingAndGlyphs">v</tspan><tspan x="772.97" y="1641.00" font-size="74.5" textLength="33.34" lengthAdjust="spacingAndGlyphs">e</tspan><tspan x="806.63" y="1641.00" font-size="74.5" textLength="34.21" lengthAdjust="spacingAndGlyphs">n</tspan><tspan x="844.09" y="1641.00" font-size="74.5" textLength="34.38" lengthAdjust="spacingAndGlyphs">u</tspan><tspan x="880.80" y="1641.00" font-size="74.5" textLength="37.04" lengthAdjust="spacingAndGlyphs">m</tspan><tspan x="916.40" y="1641.00" font-size="74.5" textLength="33.99" lengthAdjust="spacingAndGlyphs">b</tspan><tspan x="953.73" y="1641.00" font-size="74.5" textLength="33.70" lengthAdjust="spacingAndGlyphs">e</tspan><tspan x="993.29" y="1641.00" font-size="74.5" textLength="27.29" lengthAdjust="spacingAndGlyphs">r</tspan><tspan x="1035.77" y="1633.00" font-size="70.5" textLength="22.95" lengthAdjust="spacingAndGlyphs">(</tspan><tspan x="1062.44" y="1641.00" font-size="74.5" textLength="33.38" lengthAdjust="spacingAndGlyphs">c</tspan><tspan x="1098.92" y="1641.00" font-size="74.5" textLength="36.31" lengthAdjust="spacingAndGlyphs">m</tspan><tspan x="1130.46" y="1606.20" font-size="48.8" textLength="29.89" lengthAdjust="spacingAndGlyphs" style="font-family:'DejaVu Sans',sans-serif;font-weight:200;stroke:none">-</tspan><tspan x="1161.48" y="1610.00" font-size="51.0" textLength="20.59" lengthAdjust="spacingAndGlyphs">1</tspan><tspan x="1183.08" y="1633.00" font-size="70.5" textLength="21.91" lengthAdjust="spacingAndGlyphs">)</tspan></text>
<rect x="648.2" y="978.2" width="492.4" height="253.6" fill="#fff" stroke="#000" stroke-width="3.6"/>
<line x1="660.2" y1="1027.1" x2="805.9" y2="1027.1" stroke="#4f4f4f" stroke-width="3.8" stroke-linecap="round"/>
<line x1="660.2" y1="1106.7" x2="805.9" y2="1106.7" stroke="#ef3e42" stroke-width="3.8" stroke-linecap="round"/>
<line x1="660.2" y1="1186.6" x2="805.9" y2="1186.6" stroke="#1b6ede" stroke-width="3.8" stroke-linecap="round"/>
<text style="font-family:'Liberation Serif',serif" stroke="#fff" stroke-width="1.0"><tspan x="839.39" y="1053.20" font-size="74.5" textLength="36.86" lengthAdjust="spacingAndGlyphs">P</tspan><tspan x="878.58" y="1053.20" font-size="74.5" textLength="33.75" lengthAdjust="spacingAndGlyphs">V</tspan><tspan x="911.03" y="1053.20" font-size="74.5" textLength="34.93" lengthAdjust="spacingAndGlyphs">A</tspan><tspan x="945.24" y="1047.90" font-size="74.5" textLength="43.33" lengthAdjust="spacingAndGlyphs" style="font-family:'DejaVu Sans',sans-serif;font-weight:200;stroke:none">-</tspan><tspan x="986.73" y="1053.20" font-size="74.5" textLength="34.93" lengthAdjust="spacingAndGlyphs">A</tspan><tspan x="1020.84" y="1053.20" font-size="74.5" textLength="34.00" lengthAdjust="spacingAndGlyphs">A</tspan><tspan x="1054.53" y="1047.90" font-size="74.5" textLength="42.64" lengthAdjust="spacingAndGlyphs" style="font-family:'DejaVu Sans',sans-serif;font-weight:200;stroke:none">-</tspan><tspan x="1102.01" y="1053.20" font-size="74.5" textLength="22.77" lengthAdjust="spacingAndGlyphs">t</tspan></text>
<text style="font-family:'Liberation Serif',serif" stroke="#fff" stroke-width="1.0"><tspan x="839.39" y="1132.40" font-size="74.5" textLength="36.86" lengthAdjust="spacingAndGlyphs">P</tspan><tspan x="877.73" y="1132.40" font-size="74.5" textLength="34.93" lengthAdjust="spacingAndGlyphs">A</tspan><tspan x="911.03" y="1132.40" font-size="74.5" textLength="34.93" lengthAdjust="spacingAndGlyphs">A</tspan><tspan x="945.24" y="1127.10" font-size="74.5" textLength="43.33" lengthAdjust="spacingAndGlyphs" style="font-family:'DejaVu Sans',sans-serif;font-weight:200;stroke:none">-</tspan><tspan x="993.06" y="1132.40" font-size="74.5" textLength="22.77" lengthAdjust="spacingAndGlyphs">t</tspan></text>
<text style="font-family:'Liberation Serif',serif" stroke="#fff" stroke-width="1.0"><tspan x="839.39" y="1212.20" font-size="74.5" textLength="36.86" lengthAdjust="spacingAndGlyphs">P</tspan><tspan x="877.73" y="1212.20" font-size="74.5" textLength="34.93" lengthAdjust="spacingAndGlyphs">A</tspan><tspan x="911.03" y="1212.20" font-size="74.5" textLength="34.93" lengthAdjust="spacingAndGlyphs">A</tspan></text>
<text x="1054.50" y="419.3" font-size="39.5" textLength="77.42" lengthAdjust="spacingAndGlyphs" style="font-family:'Liberation Serif',serif" stroke="#fff" stroke-width="0.7">1717</text>
<text x="1682.07" y="339.5" font-size="39.5" textLength="78.04" lengthAdjust="spacingAndGlyphs" style="font-family:'Liberation Serif',serif" stroke="#fff" stroke-width="0.7">1024</text>
<text x="1517.74" y="571.5" font-size="39.5" textLength="71.92" lengthAdjust="spacingAndGlyphs" style="font-family:'Liberation Serif',serif" stroke="#fff" stroke-width="0.7">1251</text>
<text x="1144.74" y="1413.0" font-size="39.5" textLength="78.69" lengthAdjust="spacingAndGlyphs" style="font-family:'Liberation Serif',serif" stroke="#fff" stroke-width="0.7">1557</text>
<text x="1433.59" y="1341.4" font-size="39.5" textLength="75.23" lengthAdjust="spacingAndGlyphs" style="font-family:'Liberation Serif',serif" stroke="#fff" stroke-width="0.7">1406</text>
<line x1="1136.6" y1="405.3" x2="1175.7" y2="375.1" stroke="#000" stroke-width="4" stroke-linecap="round"/>
<polygon points="1202.2,350.3 1169.4,367.2 1182,383.1" fill="#000" stroke="#000" stroke-width="1.5" stroke-linejoin="round"/>
<line x1="1674.5" y1="328.9" x2="1590.5" y2="306.4" stroke="#000" stroke-width="4" stroke-linecap="round"/>
<polygon points="1556.7,298.7 1592.8,298.7 1588.3,314.1" fill="#000" stroke="#000" stroke-width="1.5" stroke-linejoin="round"/>
<line x1="1505.5" y1="564.6" x2="1468.3" y2="515.4" stroke="#000" stroke-width="4" stroke-linecap="round"/>
<polygon points="1443.7,487.4 1477,511 1459.6,519.7" fill="#000" stroke="#000" stroke-width="1.5" stroke-linejoin="round"/>
<line x1="1234.1" y1="1395.5" x2="1251.2" y2="1383.7" stroke="#000" stroke-width="4" stroke-linecap="round"/>
<polygon points="1281.3,1363.3 1244.8,1375.1 1257.7,1392.3" fill="#000" stroke="#000" stroke-width="1.5" stroke-linejoin="round"/>
<line x1="1411.5" y1="1338.4" x2="1381.4" y2="1274.2" stroke="#000" stroke-width="4" stroke-linecap="round"/>
<polygon points="1365.6,1242.6 1390.1,1270.1 1372.8,1278.3" fill="#000" stroke="#000" stroke-width="1.5" stroke-linejoin="round"/>
</svg>
</body></html>
